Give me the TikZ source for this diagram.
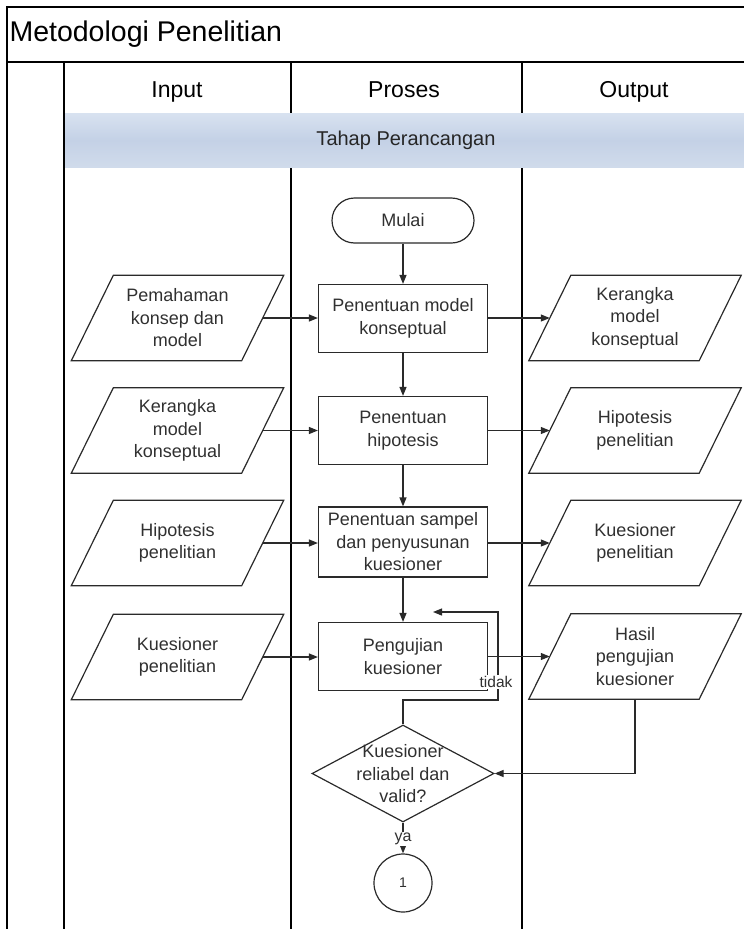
\documentclass[tikz,border=0pt]{standalone}
\usepackage{fontspec}
\setmainfont{Liberation Sans}
\usetikzlibrary{arrows.meta,shapes.geometric,calc}
\definecolor{ink}{HTML}{2A2A2A}
\definecolor{txtgray}{HTML}{303030}
\definecolor{bandtop}{RGB}{216,226,240}
\definecolor{bandmid}{RGB}{196,209,230}
\definecolor{bandbot}{RGB}{208,219,235}

% parallelogram (data) outline drawn around a named text node
\newcommand\parashape[1]{%
  \draw[shapeline] ($(#1.north west)+(21,0)$) -- ($(#1.north east)+(21,0)$)
    -- ($(#1.south east)+(-21,0)$) -- ($(#1.south west)+(-21,0)$) -- cycle;}

\begin{document}
\begin{tikzpicture}[x=1pt,y=-1pt,
  frameline/.style={draw=black,line width=1.8pt},
  laneline/.style={draw=black,line width=1.3pt},
  shapeline/.style={draw=ink,line width=1.2pt},
  bodytext/.style={text=txtgray,font=\fontsize{18}{22.5}\selectfont,align=center},
  procbox/.style={shapeline,bodytext,minimum width=169,minimum height=68,inner sep=0},
  paratext/.style={bodytext,minimum width=170,minimum height=85,inner sep=0},
  flow/.style={draw=ink,line width=1.2pt,-{Triangle[length=9pt,width=7pt]}},
  header/.style={font=\fontsize{23}{26}\selectfont,text=black,anchor=base},
]
\useasboundingbox (0,0) rectangle (744,929);

% swimlane separators under the phase band
\draw[laneline] (291,62) -- (291,934);
\draw[laneline] (522,62) -- (522,934);

% phase band
\shade[top color=bandtop,bottom color=bandbot,middle color=bandmid]
  (64,113) rectangle (749,167);
\node[font=\fontsize{20}{24}\selectfont,text=black!85] (phase) at (406,140) {Tahap Perancangan};

% outer frame and first lane
\draw[laneline] (64,62) -- (64,934);
\draw[frameline] (749,7) -- (7,7) -- (7,934);
\draw[frameline] (7,62) -- (749,62);

% titles
\node[anchor=west,font=\fontsize{28.5}{32}\selectfont] (title) at (6,34) {Metodologi Penelitian};
\node[header] (hin)   at (177,97) {Input};
\node[header] (hpro)  at (404,97) {Proses};
\node[header] (hout)  at (634,97) {Output};

% process lane
\node[shapeline,bodytext,rounded corners=22.5,minimum width=142,minimum height=45,inner sep=0]
  (start) at (403,220.5) {Mulai};
\node[procbox] (p1) at (403,318.5) {Penentuan model\\konseptual};
\node[procbox] (p2) at (403,430.5) {Penentuan\\hipotesis};
\node[procbox,minimum height=70] (p3) at (403,542) {Penentuan sampel\\dan penyusunan\\kuesioner};
\node[procbox] (p4) at (403,656.5) {Pengujian\\kuesioner};
\node[diamond,shapeline,minimum width=182,minimum height=97,inner sep=0] (dec) at (403,773.5) {};
\node[bodytext] (dectext) at (403,774) {Kuesioner\\reliabel dan\\valid?};
\node[circle,shapeline,minimum size=58,inner sep=0,font=\fontsize{14}{16}\selectfont,text=txtgray]
  (conn) at (403,883) {1};

% input lane
\node[paratext] (in1) at (177.5,318) {Pemahaman\\konsep dan\\model};
\node[paratext] (in2) at (177.5,430.5) {Kerangka\\model\\konseptual};
\node[paratext] (in3) at (177.5,543) {Hipotesis\\penelitian};
\node[paratext] (in4) at (177.5,657) {Kuesioner\\penelitian};
\parashape{in1}\parashape{in2}\parashape{in3}\parashape{in4}

% output lane
\node[paratext] (out1) at (635,318) {Kerangka\\model\\konseptual};
\node[paratext] (out2) at (635,430.5) {Hipotesis\\penelitian};
\node[paratext] (out3) at (635,543) {Kuesioner\\penelitian};
\node[paratext] (out4) at (635,656.5) {Hasil\\pengujian\\kuesioner};
\parashape{out1}\parashape{out2}\parashape{out3}\parashape{out4}

% main flow
\draw[flow] (start) -- (p1);
\draw[flow] (p1) -- (p2);
\draw[flow] (p2) -- (p3);
\draw[flow] (p3) -- (p4);

\draw[flow] (in1.east) -- (in1.east -| p1.west);
\draw[flow] (in2.east) -- (in2.east -| p2.west);
\draw[flow] (in3.east) -- (in3.east -| p3.west);
\draw[flow] (in4.east) -- (in4.east -| p4.west);

\draw[flow] (p1.east |- in1.east) -- (out1.west);
\draw[flow] (p2.east |- in2.east) -- (out2.west);
\draw[flow] (p3.east |- in3.east) -- (out3.west);
\draw[flow] (p4.east |- out4.west) -- (out4.west);

% test result back to the decision
\draw[flow] (out4.south) |- (dec.east);

% loop back when the questionnaire fails
\coordinate (loopcorner) at (498,700);
\coordinate (loopend) at (433,612);
\draw[flow] (dec.north) |- (loopcorner) |- (loopend);
\node[fill=white,inner sep=1pt,font=\fontsize{15.5}{18}\selectfont,text=txtgray] (tidak) at (496,682) {tidak};

% accepted
\draw[flow] (dec.south) -- (conn.north);
\node[fill=white,inner sep=1pt,font=\fontsize{16}{18}\selectfont,text=txtgray] (ya) at (403,839) {ya};
\end{tikzpicture}
\end{document}
